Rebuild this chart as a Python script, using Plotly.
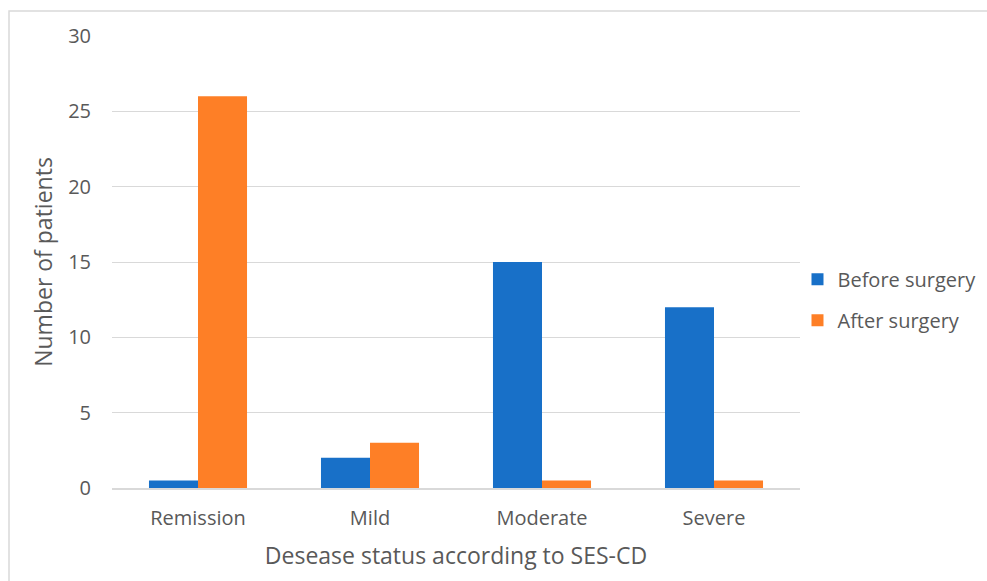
import plotly.graph_objects as go

categories = ["Remission", "Mild", "Moderate", "Severe"]
before_surgery = [0.5, 2, 15, 12]
after_surgery = [26, 3, 0.5, 0.5]
y_ticks = [0, 5, 10, 15, 20, 25, 30]

FONT = "Open Sans, Lato, sans-serif"
TEXT = "#595959"
GRID = "#d9d9d9"

fig = go.Figure()
fig.add_trace(go.Bar(name="Before surgery", x=categories, y=before_surgery,
                     marker=dict(color="#1870c8", line=dict(width=0)),
                     legendgroup="a"))
fig.add_trace(go.Bar(name="After surgery", x=categories, y=after_surgery,
                     marker=dict(color="#fe7f26", line=dict(width=0)),
                     legendgroup="b"))

fig.update_layout(
    width=987, height=581,
    margin=dict(l=112, r=187, t=36, b=93, autoexpand=False),
    paper_bgcolor="white", plot_bgcolor="white",
    barmode="group", bargap=0.43, bargroupgap=0,
    font=dict(family=FONT, color=TEXT, size=20),
    showlegend=True,
    legend=dict(xref="container", yref="container", x=0.808, y=0.484,
                xanchor="left", yanchor="middle",
                font=dict(size=20, color=TEXT, family=FONT),
                tracegroupgap=12, itemwidth=30, bgcolor="rgba(0,0,0,0)"),
    xaxis=dict(
        showgrid=False, showline=True, linecolor=GRID, linewidth=1.5,
        ticks="", tickfont=dict(size=20, color=TEXT), ticklabelstandoff=11,
        title=dict(text="Desease status according to SES-CD",
                   font=dict(size=23, color=TEXT), standoff=18),
    ),
    yaxis=dict(
        range=[0, 30], tickvals=y_ticks, showgrid=True, gridcolor=GRID,
        gridwidth=1, zeroline=False, showline=False, ticks="",
        tickfont=dict(size=20, color=TEXT), ticklabelstandoff=20,
        title=dict(text="Number of patients",
                   font=dict(size=23, color=TEXT), standoff=9),
    ),
    shapes=[dict(type="rect", xref="paper", yref="paper",
                 x0=-0.1497, x1=1.6, y0=-0.5, y1=1.0553,
                 line=dict(color="#d9d9d9", width=1.5), layer="below")],
)

fig.write_html("out.html")
